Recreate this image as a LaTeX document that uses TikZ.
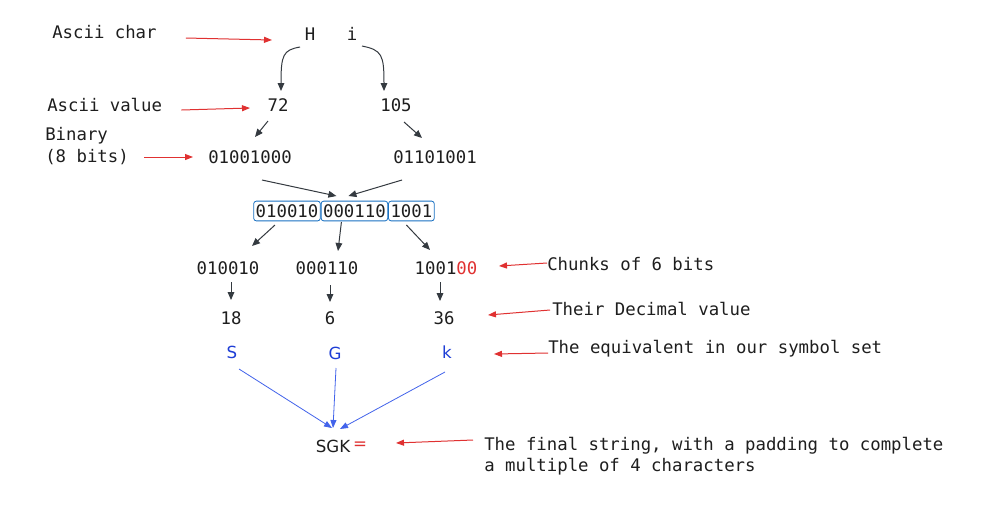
\documentclass[tikz,border=0pt]{standalone}
\usepackage{fontspec}
\setmonofont{DejaVu Sans Mono}
\newfontfamily\sgkfont{DejaVu Sans}
\usetikzlibrary{arrows.meta,calc}
\definecolor{ink}{HTML}{1E1E1E}
\definecolor{arrowgray}{HTML}{343A40}
\definecolor{redc}{HTML}{E03131}
\definecolor{bluet}{HTML}{1E3ED6}
\definecolor{bluea}{HTML}{4263EB}
\definecolor{boxblue}{HTML}{1971C2}
\tikzset{
  txt/.style={inner sep=0pt, font=\ttfamily\fontsize{13}{15}\selectfont, text=ink},
  lbl/.style={txt, anchor=west},
  sym/.style={inner sep=0pt, font=\sgkfont\fontsize{12.5}{15}\selectfont, text=bluet},
  darr/.style={draw=arrowgray, line width=0.75pt, -{Triangle[length=6pt,width=5pt]}},
  rarr/.style={draw=redc, line width=0.75pt, -{Triangle[length=6pt,width=4.5pt]}},
  barr/.style={draw=bluea, line width=0.6pt, -{Triangle[length=6pt,width=4.5pt]}},
  chunkbox/.style={txt, draw=boxblue, line width=0.6pt, rounded corners=2pt, inner xsep=1.5pt, inner ysep=2.5pt}
}
\begin{document}
\begin{tikzpicture}[x=0.75pt,y=-0.75pt]
\useasboundingbox (0,0) rectangle (988,526);
\fill[white] (0,0) rectangle (988,526);
% labels
\node[lbl] (lchar) at (52,32) {Ascii char};
\node[lbl] (lval) at (47,105) {Ascii value};
\node[lbl] (lbin1) at (45,136) {Binary};
\node[lbl] (lbin2) at (45,157) {(8 bits)};
\node[lbl] (lchunk) at (547,264) {Chunks of 6 bits};
\node[lbl] (ldec) at (552,309) {Their Decimal value};
\node[lbl] (lsym) at (548,349) {The equivalent in our symbol set};
\node[lbl] (lfin1) at (484,446) {The final string, with a padding to complete};
\node[lbl] (lfin2) at (484,467) {a multiple of 4 characters};
% main column
\node[txt] (H) at (310,34) {H};
\node[txt] (i) at (352,34) {i};
\node[txt] (n72) at (278,105) {72};
\node[txt] (n105) at (396,105) {105};
\node[txt] (b1) at (250,157) {01001000};
\node[txt] (b2) at (435,157) {01101001};
\node[chunkbox] (bx1) at (287,211) {010010};
\node[chunkbox, anchor=west] (bx2) at (bx1.east) {000110};
\node[chunkbox, anchor=west] (bx3) at (bx2.east) {1001};
\node[txt] (c1) at (228,268) {010010};
\node[txt] (c2) at (327,268) {000110};
\node[txt] (c3) at (446,268) {1001\textcolor{redc}{00}};
\node[txt] (d1) at (231,318) {18};
\node[txt] (d2) at (330,318) {6};
\node[txt] (d3) at (444,318) {36};
\node[sym] (S) at (232,352) {S};
\node[sym] (G) at (335,353) {G};
\node[sym] (k) at (447,352) {k};
\node[sym, text=ink] (SGK) at (333,446) {SGK};
\node[sym, text=redc] (eq) at (360,446) {=};
% dark arrows
\draw[darr] ($(H)+(-10,13)$) .. controls ($(H)+(-27,16)$) and ($(n72)+(3,-50)$) .. ($(n72)+(3,-14)$);
\draw[darr] ($(i)+(10,12)$) .. controls ($(i)+(30,16)$) and ($(n105)+(-12,-50)$) .. ($(n105)+(-12,-14)$);
\draw[darr] ($(n72)+(-10,16)$) -- ($(b1)+(5,-20)$);
\draw[darr] ($(n105)+(8,17)$) -- ($(b2)+(-13,-19)$);
\draw[darr] ($(b1)+(12,23)$) -- ($(bx2)+(-18,-15)$);
\draw[darr] ($(b2)+(-33,23)$) -- ($(bx2)+(-6,-15)$);
\draw[darr] ($(bx1)+(-12,14)$) -- ($(c1)+(24,-22)$);
\draw[darr] ($(bx2)+(-13,11)$) -- ($(c2)+(11,-17)$);
\draw[darr] ($(bx3)+(-5,14)$) -- ($(c3)+(-16,-18)$);
\draw[darr] ($(c1)+(3,14)$) -- ($(d1)+(0,-18)$);
\draw[darr] ($(c2)+(3,17)$) -- ($(d2)+(0,-16)$);
\draw[darr] ($(c3)+(-6,14)$) -- ($(d3)+(-4,-17)$);
% blue arrows
\draw[barr] ($(S)+(7,17)$) -- ($(SGK)+(-1,-18)$);
\draw[barr] ($(G)+(1,15)$) -- ($(SGK)+(0,-18)$);
\draw[barr] ($(k)+(-2,20)$) -- ($(SGK)+(7,-17)$);
% red arrows
\draw[rarr] ($(lchar.east)+(29,6)$) -- ($(H)+(-38,6)$);
\draw[rarr] ($(lval.east)+(19,5)$) -- ($(n72)+(-28,3)$);
\draw[rarr] ($(lbin2.east)+(15,0)$) -- ($(b1)+(-57,0)$);
\draw[rarr] ($(lchunk.west)+(0,-1)$) -- ($(c3)+(53,-2)$);
\draw[rarr] ($(ldec.west)+(-2,1)$) -- ($(d3)+(44,-3)$);
\draw[rarr] ($(lsym.west)+(0,4)$) -- ($(k)+(47,2)$);
\draw[rarr] ($(lfin1.west)+(-11,-6)$) -- ($(eq)+(36,-3)$);
\end{tikzpicture}
\end{document}
